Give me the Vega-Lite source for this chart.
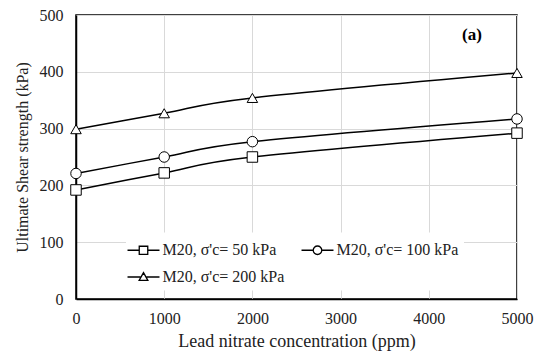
{
  "$schema": "https://vega.github.io/schema/vega-lite/v6.json",
  "width": 441,
  "height": 284,
  "autosize": "none",
  "padding": {"left": 76, "top": 15, "right": 20, "bottom": 54},
  "background": "white",
  "config": {
    "font": "Liberation Serif",
    "view": {"stroke": "black", "strokeWidth": 1.5},
    "axis": {
      "gridColor": "#d9d9d9",
      "gridWidth": 1,
      "domainColor": "black",
      "domainWidth": 1.5,
      "ticks": false,
      "labelFlush": false,
      "labelFont": "Liberation Serif",
      "titleFont": "Liberation Serif",
      "labelFontSize": 16,
      "titleFontWeight": "normal",
      "labelColor": "#222",
      "titleColor": "#222"
    }
  },
  "data": {
    "values": [
      {"series": "M20, σ'c= 50 kPa", "ppm": 0, "strength": 192},
      {"series": "M20, σ'c= 50 kPa", "ppm": 1000, "strength": 222},
      {"series": "M20, σ'c= 50 kPa", "ppm": 2000, "strength": 250},
      {"series": "M20, σ'c= 50 kPa", "ppm": 5000, "strength": 292},
      {"series": "M20, σ'c= 100 kPa", "ppm": 0, "strength": 221},
      {"series": "M20, σ'c= 100 kPa", "ppm": 1000, "strength": 250},
      {"series": "M20, σ'c= 100 kPa", "ppm": 2000, "strength": 277},
      {"series": "M20, σ'c= 100 kPa", "ppm": 5000, "strength": 317},
      {"series": "M20, σ'c= 200 kPa", "ppm": 0, "strength": 299},
      {"series": "M20, σ'c= 200 kPa", "ppm": 1000, "strength": 327},
      {"series": "M20, σ'c= 200 kPa", "ppm": 2000, "strength": 354},
      {"series": "M20, σ'c= 200 kPa", "ppm": 5000, "strength": 398}
    ]
  },
  "encoding": {
    "x": {
      "field": "ppm", "type": "quantitative",
      "scale": {"domain": [0, 5000], "nice": false},
      "axis": {"values": [0, 1000, 2000, 3000, 4000, 5000], "format": "d", "labelOverlap": false, "labelFlush": false, "title": "Lead nitrate concentration (ppm)", "titleFontSize": 18, "labelPadding": 11, "titlePadding": 6}
    },
    "y": {
      "field": "strength", "type": "quantitative",
      "scale": {"domain": [0, 500], "nice": false},
      "axis": {"values": [0, 100, 200, 300, 400, 500], "format": "d", "labelOverlap": false, "labelFlush": false, "title": "Ultimate  Shear strength (kPa)", "titleFontSize": 16, "labelPadding": 13, "titlePadding": 9}
    }
  },
  "layer": [
    {
      "mark": {"type": "line", "interpolate": "cardinal", "color": "black", "strokeWidth": 1.5},
      "encoding": {
        "detail": {"field": "series"}
      }
    },
    {
      "transform": [{"filter": "false"}],
      "mark": {"type": "point", "filled": false, "color": "black", "strokeWidth": 1.3, "opacity": 1},
      "encoding": {
        "shape": {
          "field": "series",
          "type": "nominal",
          "scale": {
            "domain": ["M20, σ'c= 50 kPa", "M20, σ'c= 100 kPa", "M20, σ'c= 200 kPa"],
            "range": [
              "M-1.39,0H-0.37M0.37,0H1.39M-0.37,-0.35H0.37V0.35H-0.37Z",
              "M-1.39,0H-0.37M0.37,0H1.39M0.37,0A0.37,0.37 0 1,1 -0.37,0A0.37,0.37 0 1,1 0.37,0Z",
              "M-1.39,0H-0.27M0.27,0H1.39M0,-0.38L0.38,0.3L-0.38,0.3Z"
            ]
          },
          "legend": {
            "title": null,
            "orient": "none",
            "legendX": 50,
            "legendY": 217.5,
            "direction": "horizontal",
            "columns": 2,
            "columnPadding": 13,
            "rowPadding": 6,
            "padding": 5,
            "fillColor": "white",
            "strokeColor": null,
            "labelFont": "Liberation Serif",
            "labelFontSize": 16,
            "labelColor": "#222",
            "labelOffset": 6.5,
            "symbolSize": 529,
            "symbolStrokeColor": "black",
            "symbolStrokeWidth": 1.3
          }
        }
      }
    },
    {
      "mark": {"type": "point", "filled": true, "fill": "white", "stroke": "black", "strokeWidth": 1, "size": 110, "opacity": 1},
      "encoding": {
        "shape": {
          "field": "series",
          "type": "nominal",
          "scale": {
            "domain": ["M20, σ'c= 50 kPa", "M20, σ'c= 100 kPa", "M20, σ'c= 200 kPa"],
            "range": ["square", "circle", "triangle-up"]
          },
          "legend": null
        }
      }
    },
    {
      "data": {"values": [{"label": "(a)", "ppm": 4490, "strength": 465}]},
      "mark": {"type": "text", "font": "Liberation Serif", "fontSize": 17, "fontWeight": "bold", "color": "black"},
      "encoding": {
        "text": {"field": "label"}
      }
    }
  ],
  "resolve": {"scale": {"shape": "independent"}}
}
